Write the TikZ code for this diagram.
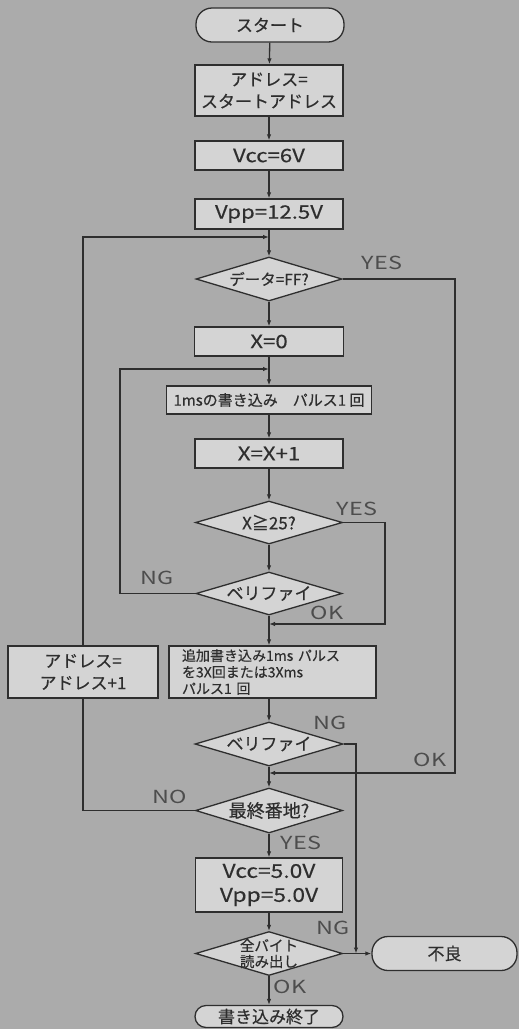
\documentclass[tikz,border=0pt]{standalone}
\usepackage{fontspec}
\newfontfamily\jp[FakeBold=0.4]{Noto Sans CJK JP}
\newfontfamily\jpw[FakeStretch=1.3]{Noto Sans CJK JP}
\newfontfamily\jpv[FakeStretch=1.2,FakeBold=0.3]{Noto Sans CJK JP}
\newcommand\dtx[1]{\makebox[0pt]{#1}}
\usetikzlibrary{shapes.geometric,arrows.meta}
\definecolor{bg}{HTML}{ABABAB}
\definecolor{boxfill}{HTML}{D4D4D4}
\definecolor{ink}{HTML}{2E2E2E}
\begin{document}
\begin{tikzpicture}[x=1pt,y=-1pt,
 every node/.style={text=ink},
 flowbox/.style={draw=ink,fill=boxfill,line width=1.3pt,inner sep=0pt,font=\jp\fontsize{17}{22}\selectfont,align=center},
 latbox/.style={flowbox,font=\jpv\fontsize{18.5}{24}\selectfont},
 term/.style={flowbox,rounded corners=16pt},
 dec/.style={diamond,aspect=3.3,draw=ink,fill=boxfill,line width=1.3pt,inner sep=0pt,font=\jp\fontsize{17}{18}\selectfont},
 lbl/.style={font=\jpw\fontsize{18}{20}\selectfont,text=ink!85,inner sep=0pt},
 conn/.style={draw=ink,line width=1.3pt},
 arr/.style={conn,-{Latex[length=6pt,width=4.5pt]}},
]
\useasboundingbox (0,0) rectangle (519,1029);
\fill[bg] (0,0) rectangle (519,1029);

\node[term,minimum width=148pt,minimum height=34pt] (start) at (270,25) {スタート};
\node[flowbox,minimum width=148pt,minimum height=51pt] (a1) at (269,90.5) {アドレス=\\スタートアドレス};
\node[latbox,minimum width=148pt,minimum height=29pt] (vcc) at (269,155.5) {Vcc=6V};
\node[latbox,minimum width=148pt,minimum height=30pt] (vpp) at (269,214) {Vpp=12.5V};
\node[dec,minimum width=146pt,minimum height=44pt,font=\jp\fontsize{15.5}{18}\selectfont] (d1) at (269,279) {\dtx{データ=FF?}};
\node[latbox,minimum width=149pt,minimum height=29pt] (x0) at (269,341.5) {X=0};
\node[flowbox,minimum width=205pt,minimum height=28pt,font=\jp\fontsize{15}{18}\selectfont] (w1) at (269,400) {1msの書き込み\quad パルス1 回};
\node[latbox,minimum width=148pt,minimum height=29pt] (xp1) at (269,453.5) {X=X+1};
\node[dec,minimum width=147pt,minimum height=43pt] (d2) at (269,522.5) {\dtx{X≧25?}};
\node[dec,minimum width=146pt,minimum height=43pt] (d3) at (269,593.5) {\dtx{ベリファイ}};
\node[flowbox,minimum width=207pt,minimum height=52pt,font=\jp\fontsize{14}{16.5}\selectfont,align=left,text width=181pt] (add) at (272.5,672) {追加書き込み1ms パルス\\を3X回または3Xms\\パルス1 回};
\node[flowbox,minimum width=150pt,minimum height=52pt] (addr) at (83,672) {アドレス=\\アドレス+1};
\node[dec,minimum width=148pt,minimum height=44pt] (d4) at (269,744) {\dtx{ベリファイ}};
\node[dec,minimum width=147pt,minimum height=45pt,font=\jp\fontsize{18}{20}\selectfont] (d5) at (269,810.5) {\dtx{最終番地?}};
\node[latbox,minimum width=147pt,minimum height=54pt,font=\jpv\fontsize{19}{24}\selectfont] (vcc5) at (269,885) {Vcc=5.0V\\Vpp=5.0V};
\node[dec,minimum width=147pt,minimum height=44pt,font=\jp\fontsize{14.5}{15.5}\selectfont] (d6) at (269,953.5) {\dtx{\shortstack{全バイト\\読み出し}}};
\node[term,minimum width=145pt,minimum height=34pt] (bad) at (444.5,953.5) {不良};
\node[term,minimum width=148pt,minimum height=22pt,rounded corners=11pt] (fin) at (269,1016.5) {書き込み終了};

\coordinate (j1) at (269,237);
\coordinate (j2) at (269,369);
\coordinate (c2) at (120,369);
\coordinate (j3) at (269,624);
\coordinate (c3) at (385,624);
\coordinate (j4) at (269,773);
\coordinate (c1) at (455,773);
\coordinate (j5) at (356,953.5);

\draw[arr] (start) -- (a1);
\draw[arr] (a1) -- (vcc);
\draw[arr] (vcc) -- (vpp);
\draw[arr] (vpp) -- (d1);
\draw[arr] (addr.north) |- (j1);
\draw[arr] (d1) -- (x0);
\draw[arr] (d1.east) -| (c1) -- (j4);
\draw[arr] (x0) -- (w1);
\draw[arr] (d3.west) -| (c2) -- (j2);
\draw[arr] (w1) -- (xp1);
\draw[arr] (xp1) -- (d2);
\draw[arr] (d2) -- (d3);
\draw[arr] (d2.east) -| (c3) -- (j3);
\draw[arr] (d3.south) -- (d3.south |- add.north);
\draw[arr] (d4.north |- add.south) -- (d4.north);
\draw[arr] (d4.east) -| (j5);
\draw[arr] (d4) -- (d5);
\draw[conn] (d5.west) -| (addr.south);
\draw[arr] (d5) -- (vcc5);
\draw[arr] (vcc5) -- (d6);
\draw[arr] (d6.east) -- (bad.west);
\draw[arr] (d6) -- (fin);

\node[lbl] (l1) at (382,263) {YES};
\node[lbl] (l2) at (157,578) {NG};
\node[lbl] (l3) at (357,509) {YES};
\node[lbl] (l4) at (327,613) {OK};
\node[lbl] (l5) at (330,723) {NG};
\node[lbl] (l6) at (430,760) {OK};
\node[lbl] (l7) at (170,797) {NO};
\node[lbl] (l8) at (301,843) {YES};
\node[lbl] (l9) at (333,928) {NG};
\node[lbl] (l10) at (290,987) {OK};
\end{tikzpicture}
\end{document}
